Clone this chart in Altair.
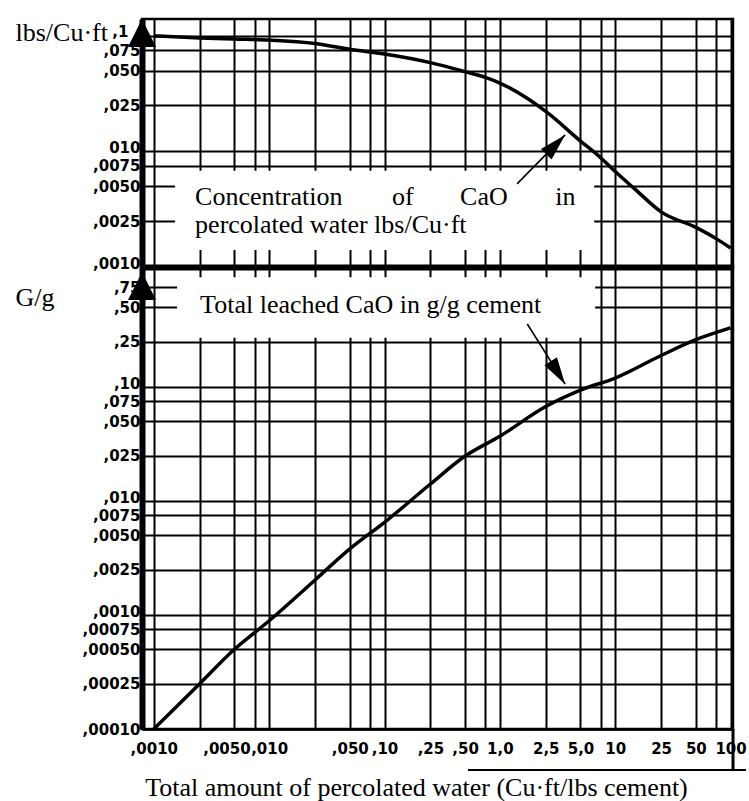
import json
import altair as alt
import pandas as pd

# ---------------- data ----------------
# grid / tick positions along the percolated-water axis (Cu·ft/lbs cement)
x_grid = [0.001, 0.0025, 0.005, 0.0075, 0.01, 0.025, 0.05, 0.075, 0.1, 0.25,
          0.5, 0.75, 1.0, 2.5, 5.0, 7.5, 10.0, 25.0, 50.0, 75.0, 100.0]
x_text = [",0010", "", ",0050", "", ",010", "", ",050", "", ",10", ",25",
          ",50", "", "1,0", "2,5", "5,0", "", "10", "25", "50", "", "100"]

# concentration panel (lbs/Cu·ft)
conc_grid = [0.1, 0.075, 0.05, 0.025, 0.01, 0.0075, 0.005, 0.0025, 0.001]
conc_text = [",1", ",075", ",050", ",025", "010", ",0075", ",0050", ",0025", ",0010"]

# leached CaO panel (g/g)
leach_grid = [0.75, 0.5, 0.25, 0.1, 0.075, 0.05, 0.025, 0.01, 0.0075, 0.005,
              0.0025, 0.001, 0.00075, 0.0005, 0.00025, 0.0001]
leach_text = [",75", ",50", ",25", ",10", ",075", ",050", ",025", ",010", ",0075",
              ",0050", ",0025", ",0010", ",00075", ",00050", ",00025", ",00010"]

# concentration of CaO in percolated water
conc_water = [0.001, 0.0025, 0.005, 0.01, 0.025, 0.05, 0.1, 0.25, 0.5, 0.75,
              1.0, 2.5, 5.0, 7.5, 10.0, 14.9, 25.0, 50.0, 75.0, 100.0]
conc_value = [0.100, 0.096, 0.094, 0.092, 0.086, 0.0766, 0.0697, 0.0587, 0.049, 0.0437,
              0.039, 0.0222, 0.0123, 0.0088, 0.0067, 0.0047, 0.0030, 0.0022, 0.00176, 0.00146]

# total leached CaO
leach_water = [0.001, 0.0025, 0.005, 0.01, 0.025, 0.05, 0.1, 0.25,
               0.5, 1.0, 2.5, 5.0, 10.0, 25.0, 50.0, 100.0]
leach_value = [0.0001, 0.00025, 0.0005, 0.00089, 0.00203, 0.0038, 0.0065, 0.0141,
               0.0248, 0.037, 0.0675, 0.094, 0.12, 0.189, 0.26, 0.33]

# annotation boxes, words and arrows (data coordinates)
conc_box = {"x": [0.00153], "x2": [6.57], "y": [0.0014], "y2": [0.0068]}
conc_words = ["Concentration", "of", "CaO", "in", "percolated water lbs/Cu·ft"]
conc_words_x = [0.00228, 0.1164, 0.4524, 3.017, 0.00228]
conc_words_y = [0.00344, 0.00344, 0.00344, 0.00344, 0.00197]
conc_arrow = {"x": [1.41], "y": [0.00524], "x2": [3.68], "y2": [0.0139]}

leach_box = {"x": [0.00159], "x2": [6.7], "y": [0.27], "y2": [0.92]}
leach_words = ["Total leached CaO in g/g cement"]
leach_words_x = [0.00252]
leach_words_y = [0.445]
leach_arrow = {"x": [1.73], "y": [0.357], "x2": [3.68], "y2": [0.106]}

# ---------------- layout / style ----------------
X_DOMAIN = [0.00079, 105]
CONC_DOMAIN = [0.001, 0.14]
LEACH_DOMAIN = [0.0001, 1.13]
W, H_TOP, H_BOT = 591, 248, 462
SERIF = "Liberation Serif"
SANS = "DejaVu Sans"
GRID_W = 2
ARROW_HEAD = "M0,0L0.55,2L-0.55,2Z"
AXIS_HEAD = "M0,0L1,2L-1,2Z"


def label_expr(values, texts):
    return ("[" + ",".join(json.dumps(t) for t in texts) + "][indexof(["
            + ",".join(repr(float(v)) for v in values) + "], datum.value)]")


xs = alt.Scale(type="log", domain=X_DOMAIN, nice=False)
ys_conc = alt.Scale(type="log", domain=CONC_DOMAIN, nice=False)
ys_leach = alt.Scale(type="log", domain=LEACH_DOMAIN, nice=False)

common_axis = dict(grid=True, gridColor="black", gridWidth=GRID_W, ticks=False,
                   domainColor="black", labelFont=SANS, labelFontWeight="bold",
                   labelFontSize=15, labelColor="black", labelOverlap=False,
                   labelFlush=False, labelBound=False)

y_title = dict(titleAngle=0, titleAlign="left", titleBaseline="alphabetic",
               titleFont=SERIF, titleFontSize=26, titleFontWeight="normal",
               titleColor="black")


def panel(water, value, yscale, yaxis, xaxis, box, words, wx, wy, arrow,
          arrow_angle, y_top, height, extra=None):
    def X(field):
        return alt.X(field, type="quantitative", scale=xs, axis=xaxis)

    def Y(field):
        return alt.Y(field, type="quantitative", scale=yscale, axis=yaxis)

    curve = alt.Chart(pd.DataFrame({"water": water, "value": value})).mark_line(
        color="black", strokeWidth=3.5, interpolate="monotone"
    ).encode(x=X("water"), y=Y("value"))

    rect = alt.Chart(pd.DataFrame(box)).mark_rect(color="white", opacity=1).encode(
        x=X("x"), x2="x2:Q", y=Y("y"), y2="y2:Q")

    text = alt.Chart(pd.DataFrame({"w": words, "x": wx, "y": wy})).mark_text(
        font=SERIF, fontSize=26, align="left", baseline="alphabetic", color="black"
    ).encode(x=X("x"), y=Y("y"), text="w:N")

    arrow_df = pd.DataFrame(arrow)
    shaft = alt.Chart(arrow_df).mark_rule(color="black", strokeWidth=1.6).encode(
        x=X("x"), x2="x2:Q", y=Y("y"), y2="y2:Q")
    head = alt.Chart(arrow_df).mark_point(
        shape=ARROW_HEAD, size=729, filled=True, color="black", opacity=1,
        strokeWidth=0, angle=arrow_angle,
    ).encode(x=X("x2"), y=Y("y2"))

    axis_tip = alt.Chart(pd.DataFrame({"x": [X_DOMAIN[0]], "y": [y_top]})).mark_point(
        shape=AXIS_HEAD, size=784, filled=True, color="black", opacity=1, strokeWidth=0,
    ).encode(x=X("x"), y=Y("y"))

    layers = [curve, rect, text, shaft, head, axis_tip]
    if extra:
        layers += extra
    return alt.layer(*layers).properties(width=W, height=height)


def build(conditional):
    # ",1" sits left of the axis arrowhead, decade labels ride a little high,
    # and ",0050" leans left of ",010"
    if conditional:
        top_pad = {"condition": {"test": "datum.value == 0.1", "value": 14}, "value": 2}
        y_offset = {"condition": {"test": "datum.value == 0.1 || datum.value == 0.01 || "
                                          "datum.value == 0.001", "value": -4}, "value": 0}
        x_offset = {"condition": {"test": "datum.value == 0.005", "value": -8}, "value": 0}
    else:
        top_pad, y_offset, x_offset = 2, 0, 0

    top_x_axis = alt.Axis(values=x_grid, labels=False, domainWidth=6, title=None,
                          **common_axis)
    top_y_axis = alt.Axis(values=conc_grid, labelExpr=label_expr(conc_grid, conc_text),
                          labelPadding=top_pad, labelOffset=y_offset, domainWidth=6,
                          title="lbs/Cu·ft", titleX=-127, titleY=21,
                          **y_title, **common_axis)

    bot_x_axis = alt.Axis(values=x_grid, labelExpr=label_expr(x_grid, x_text),
                          labelPadding=12, labelOffset=x_offset, domainWidth=2.5,
                          title="Total amount of percolated water (Cu·ft/lbs cement)",
                          titleFont=SERIF, titleFontSize=26, titleFontWeight="normal",
                          titleColor="black", titleX=274, titleY=66, titleAlign="center",
                          titleBaseline="alphabetic", **common_axis)
    bot_y_axis = alt.Axis(values=leach_grid, labelExpr=label_expr(leach_grid, leach_text),
                          labelPadding=2, labelOffset=y_offset, domainWidth=6, title="G/g",
                          titleX=-127, titleY=38, **y_title, **common_axis)

    # frame lines continuing below the lower panel
    frame_v = alt.Chart(pd.DataFrame({"k": [0]})).mark_rule(color="black", strokeWidth=3).encode(
        x=alt.value(W), y=alt.value(H_BOT), y2=alt.value(H_BOT + 41))
    frame_h = alt.Chart(pd.DataFrame({"k": [0]})).mark_rule(color="black", strokeWidth=2).encode(
        x=alt.value(326), x2=alt.value(604), y=alt.value(H_BOT + 41))

    top = panel(conc_water, conc_value, ys_conc, top_y_axis, top_x_axis, conc_box,
                conc_words, conc_words_x, conc_words_y, conc_arrow, 44.4,
                CONC_DOMAIN[1], H_TOP)
    bottom = panel(leach_water, leach_value, ys_leach, bot_y_axis, bot_x_axis, leach_box,
                   leach_words, leach_words_x, leach_words_y, leach_arrow, 147.7,
                   1.02, H_BOT, extra=[frame_v, frame_h])

    return alt.vconcat(top, bottom, spacing=0, bounds="flush").properties(
        padding={"left": 13, "top": 17, "right": 0, "bottom": 2},
        background="white",
    ).configure_view(stroke="black", strokeWidth=2.5)


try:
    chart = build(True)
    chart.save("out.html", embed_options={"renderer": "svg", "actions": False})
except Exception:
    chart = build(False)
    chart.save("out.html", embed_options={"renderer": "svg", "actions": False})
